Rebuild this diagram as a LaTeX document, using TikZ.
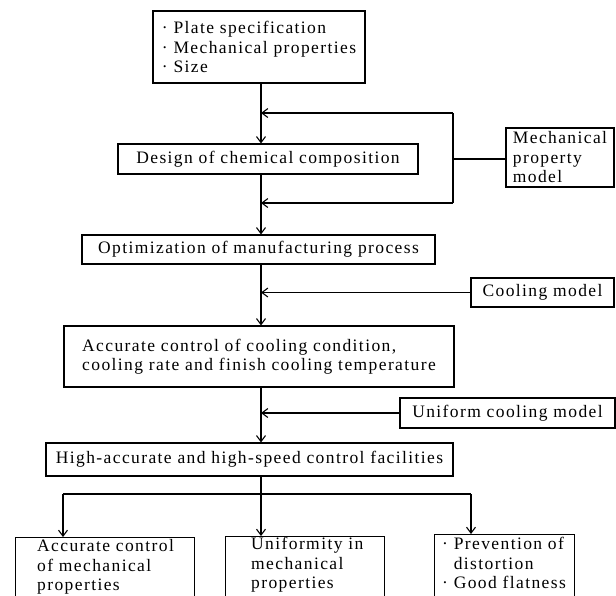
\documentclass[tikz,border=0pt]{standalone}
\usepackage{fontspec}
\setmainfont{Liberation Serif}[LetterSpace=8]
\usetikzlibrary{arrows.meta}
\begin{document}
\begin{tikzpicture}[x=1pt,y=-1pt,
  bx/.style={draw,line width=1.1pt,inner sep=0pt,align=center,
    font=\fontsize{17.5}{19.5}\selectfont},
  txt/.style={inner sep=0pt,align=left,anchor=west,
    font=\fontsize{17.5}{19.5}\selectfont},
  ln/.style={line width=1.2pt},
  arr/.style={line width=1.2pt,-{Straight Barb[length=6pt,width=9pt,line width=1.1pt]}}]
\useasboundingbox (0,0) rectangle (616,595);
\clip (0,0) rectangle (616,595);
% nodes
\node[bx,minimum width=212pt,minimum height=72pt,align=left] (top) at (259,47)
  {· Plate specification\\· Mechanical properties\\· Size};
\node[bx,minimum width=300pt,minimum height=30pt] (design) at (268,159)
  {Design of chemical composition};
\node[bx,minimum width=108pt,minimum height=59pt,align=left] (mpm) at (560,157.5)
  {Mechanical\\property\\model};
\node[bx,minimum width=353pt,minimum height=29pt] (optim) at (258.5,249.5)
  {Optimization of manufacturing process};
\node[bx,minimum width=143pt,minimum height=29pt] (cool) at (542.5,292.5)
  {Cooling model};
\node[bx,minimum width=390pt,minimum height=61pt,align=left] (acc) at (259,356.5)
  {Accurate control of cooling condition,\\cooling rate and finish cooling temperature};
\node[bx,minimum width=215pt,minimum height=30pt] (uni) at (507.5,413)
  {Uniform cooling model};
\node[bx,minimum width=407pt,minimum height=33pt] (high) at (249.5,459.5)
  {High-accurate and high-speed control facilities};
\node[bx,minimum width=179pt,minimum height=80pt,anchor=north west] (b1) at (15,537) {};
\node[bx,minimum width=159pt,minimum height=80pt,anchor=north west] (b2) at (225,536) {};
\node[bx,minimum width=140pt,minimum height=80pt,anchor=north west] (b3) at (434,534) {};
\node[txt] (b1t) at (37,567) {Accurate control\\of mechanical\\properties};
\node[txt] (b2t) at (251,565) {Uniformity in\\mechanical\\properties};
\node[txt] (b3t) at (442,563) {· Prevention of\\\phantom{· }distortion\\· Good flatness};
% coordinates
\coordinate (mx) at (261,0);
\coordinate (lpa) at (453,113);
\coordinate (lpm) at (453,159);
\coordinate (lpb) at (453,203);
\coordinate (brl) at (63,494);
\coordinate (brr) at (471,494);
% connectors
\draw[arr] (top.south -| mx) -- (design.north -| mx);
\draw[arr] (lpa) -- (lpa -| mx);
\draw[ln] (lpa) -- (lpb);
\draw[ln] (mpm.west |- lpm) -- (lpm);
\draw[arr] (lpb) -- (lpb -| mx);
\draw[arr] (design.south -| mx) -- (optim.north -| mx);
\draw[arr] (cool.west) -- (cool.west -| mx);
\draw[arr] (optim.south -| mx) -- (acc.north -| mx);
\draw[arr] (uni.west) -- (uni.west -| mx);
\draw[arr] (acc.south -| mx) -- (high.north -| mx);
\draw[arr] (high.south -| mx) -- (b2.north -| mx);
\draw[ln] (brl) -- (brr);
\draw[arr] (brl) -- (b1.north -| brl);
\draw[arr] (brr) -- (b3.north -| brr);
\end{tikzpicture}
\end{document}
